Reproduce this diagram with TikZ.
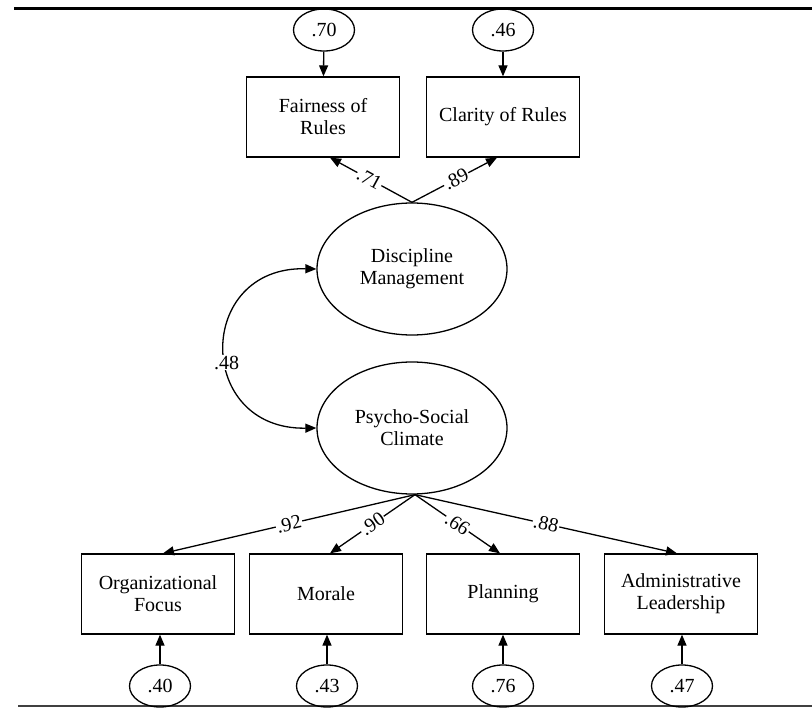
\documentclass[tikz,border=0pt]{standalone}
\usepackage{fontspec}
\setmainfont{Liberation Serif}
\usetikzlibrary{shapes.geometric,arrows.meta}
\begin{document}
\begin{tikzpicture}[x=1pt,y=-1pt,
  txt/.style={font=\fontsize{20}{22}\selectfont},
  obs/.style={draw,rectangle,line width=1.3pt,minimum width=153pt,minimum height=80pt,align=center,inner sep=0pt,txt},
  lat/.style={draw,ellipse,line width=1.3pt,minimum width=190pt,minimum height=132pt,align=center,inner sep=0pt,txt},
  err/.style={draw,ellipse,line width=1.3pt,minimum width=61pt,minimum height=42pt,inner sep=0pt,txt},
  arr/.style={line width=1.3pt,-{Triangle[length=11pt,width=9pt]}},
  lbl/.style={sloped,fill=white,inner sep=1pt,txt}]
\useasboundingbox (0,0) rectangle (812,708);
% frame lines
\coordinate (tl) at (14,9);
\coordinate (tr) at (812,9);
\coordinate (bl) at (18,706);
\coordinate (br) at (812,706);
\draw[line width=3pt] (tl) -- (tr);
\draw[line width=1.5pt,black!75] (bl) -- (br);
% top
\node[err] (e1) at (324,30) {.70};
\node[err] (e2) at (503,30) {.46};
\node[obs] (fair) at (323,117) {Fairness of\\Rules};
\node[obs] (clar) at (503,117) {Clarity of Rules};
\draw[arr] (e1) -- (fair);
\draw[arr] (e2) -- (clar);
% latent
\node[lat] (dm) at (412,269) {Discipline\\Management};
\node[lat] (psc) at (412,428) {Psycho-Social\\Climate};
\draw[arr] (dm.north) -- node[lbl,pos=0.52]{.71} ([xshift=7pt]fair.south);
\draw[arr] (dm.north) -- node[lbl,pos=0.52]{.89} ([xshift=-6pt]clar.south);
% covariance
\draw[line width=1.3pt,{Triangle[length=11pt,width=9pt]}-{Triangle[length=11pt,width=9pt]}]
  (dm.west) .. controls (195,266) and (195,430) .. node[pos=0.56,fill=white,inner sep=1pt,txt]{.48} (psc.west);
% bottom
\node[obs] (org) at (158,594) {Organizational\\Focus};
\node[obs] (mor) at (326,594) {Morale};
\node[obs] (pla) at (503,594) {Planning};
\node[obs] (adm) at (681,594) {Administrative\\Leadership};
\draw[arr] ([xshift=3pt]psc.south) -- node[lbl,pos=0.5]{.92} ([xshift=5pt]org.north);
\draw[arr] ([xshift=3pt]psc.south) -- node[lbl,pos=0.5]{.90} ([xshift=4pt]mor.north);
\draw[arr] ([xshift=3pt]psc.south) -- node[lbl,pos=0.5]{.66} ([xshift=-3pt]pla.north);
\draw[arr] ([xshift=3pt]psc.south) -- node[lbl,pos=0.5]{.88} ([xshift=-4pt]adm.north);
\node[err] (e3) at (160,686) {.40};
\node[err] (e4) at (327,686) {.43};
\node[err] (e5) at (503,686) {.76};
\node[err] (e6) at (682,686) {.47};
\draw[arr] (e3) -- (e3 |- org.south);
\draw[arr] (e4) -- (e4 |- mor.south);
\draw[arr] (e5) -- (e5 |- pla.south);
\draw[arr] (e6) -- (e6 |- adm.south);
\end{tikzpicture}
\end{document}
